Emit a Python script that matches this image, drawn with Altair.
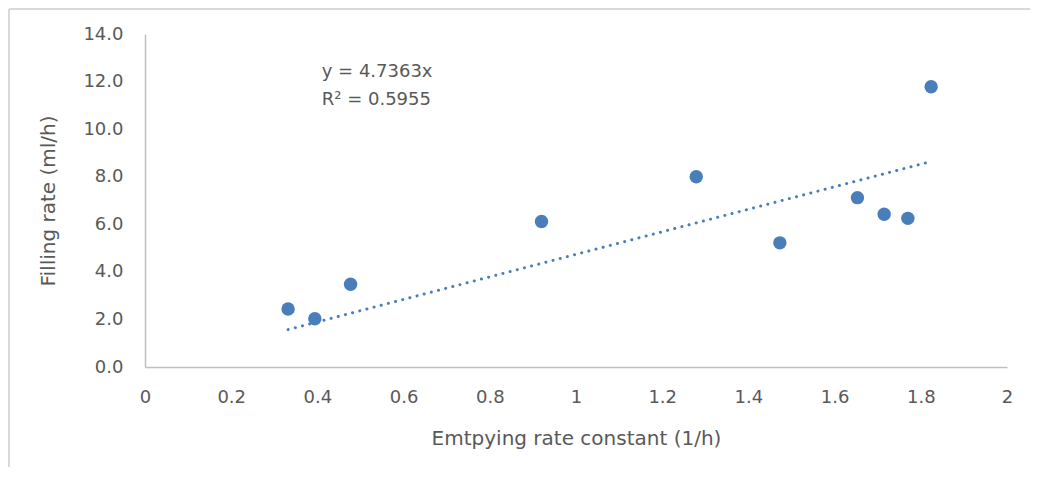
import altair as alt
import pandas as pd

# Data
emptying_rate = [0.332, 0.394, 0.477, 0.920, 1.279, 1.473, 1.653, 1.715, 1.770, 1.824]
filling_rate = [2.44, 2.03, 3.48, 6.12, 8.00, 5.22, 7.12, 6.42, 6.25, 11.78]
slope = 4.7363
annot_text = ["y = 4.7363x", "R² = 0.5955"]
annot_x = [0.41, 0.41]
annot_y = [12.42, 11.22]
x_ticks = [0, 0.2, 0.4, 0.6, 0.8, 1.0, 1.2, 1.4, 1.6, 1.8, 2.0]
y_ticks = [0, 2, 4, 6, 8, 10, 12, 14]

FONT = "DejaVu Sans"
BLUE = "#4A7EBB"
GRAY_TXT = "#595959"

pts = pd.DataFrame({"x": emptying_rate, "y": filling_rate})
xmin, xmax = min(emptying_rate), max(emptying_rate)
trend = pd.DataFrame({"x": [xmin, xmax], "y": [slope * xmin, slope * xmax]})
ann = pd.DataFrame({"x": annot_x, "y": annot_y, "t": annot_text})

xs = alt.Scale(domain=[0, 2], nice=False, zero=True)
ys = alt.Scale(domain=[0, 14], nice=False)

xaxis = alt.Axis(values=x_ticks, format="~g", title="Emtpying rate constant (1/h)",
                 labelPadding=21, titlePadding=22, labelFlush=False)
yaxis = alt.Axis(values=y_ticks, format=".1f", title="Filling rate (ml/h)",
                 labelPadding=22, titlePadding=24, labelFlush=False)

points = alt.Chart(pts).mark_circle(size=180, color=BLUE, opacity=1).encode(
    x=alt.X("x:Q", scale=xs, axis=xaxis),
    y=alt.Y("y:Q", scale=ys, axis=yaxis),
)

line = alt.Chart(trend).mark_line(color=BLUE, strokeWidth=3, strokeDash=[0.1, 7.3],
                                  strokeCap="round").encode(
    x=alt.X("x:Q", scale=xs), y=alt.Y("y:Q", scale=ys)
)

text = alt.Chart(ann).mark_text(align="left", baseline="middle", font=FONT,
                                fontSize=18, color=GRAY_TXT).encode(
    x=alt.X("x:Q", scale=xs), y=alt.Y("y:Q", scale=ys), text="t:N"
)

one = pd.DataFrame({"a": [0]})
border_left = alt.Chart(one).mark_rule(color="#d9d9d9", strokeWidth=2).encode(
    x=alt.value(-136), y=alt.value(-25), y2=alt.value(440)
)
border_top = alt.Chart(one).mark_rule(color="#d9d9d9", strokeWidth=2).encode(
    x=alt.value(-136), x2=alt.value(900), y=alt.value(-25)
)

chart = alt.layer(border_left, border_top, line, points, text).properties(
    width=862, height=333,
    autosize=alt.AutoSizeParams(type="none"),
    padding={"left": 137, "top": 26, "right": 23, "bottom": 100},
).configure_view(stroke=None).configure_axis(
    grid=False, ticks=False, domainColor="#bfbfbf", domainWidth=1.5,
    labelFont=FONT, labelFontSize=18, labelColor=GRAY_TXT,
    titleFont=FONT, titleFontSize=20, titleColor=GRAY_TXT, titleFontWeight="normal",
)

chart.save("out.html", embed_options={"renderer": "svg", "actions": False})
